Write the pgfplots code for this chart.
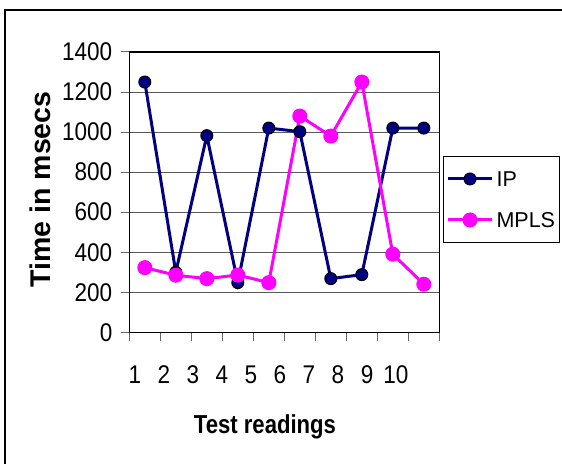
\documentclass[border=0pt]{standalone}
\usepackage{fontspec}
\setmainfont{Liberation Sans}
\newfontfamily\tickfont{Liberation Sans}[FakeStretch=0.88]
\newfontfamily\xlabfont{Liberation Sans}[FakeStretch=0.85]
\usepackage{pgfplots}
\pgfplotsset{compat=1.18}
\definecolor{ipblue}{HTML}{000080}
\definecolor{mplsmag}{HTML}{FF00FF}
\begin{document}
\begin{tikzpicture}[x=1bp,y=1bp]
\useasboundingbox (0,0) rectangle (562,464);
\draw[line width=2bp] (4.7,-5) -- (4.7,454.2) -- (570,454.2);
\begin{axis}[
    at={(129.3bp,131.7bp)}, anchor=south west,
    scale only axis, width=310bp, height=280.3bp,
    xmin=0.5, xmax=10.5, ymin=0, ymax=1400,
    ytick={0,200,...,1400},
    ymajorgrids, major grid style={black!65, line width=0.8bp},
    xtick={0.5,1.5,...,10.5},
    xticklabels={},
    extra x ticks={0.684,1.619,2.555,3.490,4.426,5.361,6.297,7.232,8.168,9.103},
    extra x tick labels={1,2,3,4,5,6,7,8,9,10},
    extra x tick style={grid=none, major tick length=0pt, tick style={draw=none}},
    xtick pos=bottom, ytick pos=left,
    tick align=outside, major tick length=8.5bp,
    tick style={black!60, line width=1bp},
    axis line style={black, line width=1.2bp},
    /pgf/number format/.cd, 1000 sep={}, assume math mode=true, /pgfplots/.cd,
    every tick label/.append style={font=\tickfont\fontsize{25.6bp}{30bp}\selectfont},
    xticklabel style={anchor=base, yshift=-51bp},
    yticklabel style={anchor=east, xshift=-5bp},
    xlabel={Test readings},
    xlabel style={font=\xlabfont\bfseries\fontsize{26bp}{30bp}\selectfont,
        at={(axis description cs:0.4377,-0.3593)}, anchor=base},
    ylabel={Time in msecs},
    ylabel style={font=\bfseries\fontsize{28.5bp}{30bp}\selectfont,
        at={(axis description cs:-0.288,0.5095)}, anchor=center, rotate=0},
    legend style={at={(axis description cs:1.012,0.629)}, anchor=north west,
        draw=black, line width=1bp, inner xsep=3bp, inner ysep=2bp,
        font=\fontsize{21.5bp}{24bp}\selectfont,
        /tikz/column sep=2bp,
        nodes={inner sep=1bp, text height=15bp, text depth=0bp, minimum height=41bp}},
    legend cell align=left,
    legend image code/.code={
        \draw[mark repeat=2,mark phase=2,#1] plot coordinates {(0bp,0bp) (22bp,0bp) (44bp,0bp)};
    },
]
\addplot[ipblue, line width=3bp, mark=*, mark size=6bp,
    mark options={fill=ipblue, draw=black, line width=1bp}] coordinates {
    (1,1250) (2,300) (3,982) (4,248) (5,1020)
    (6,1002) (7,268) (8,288) (9,1020) (10,1020)
};
\addlegendentry{IP}
\addplot[mplsmag, line width=3bp, mark=*, mark size=6bp,
    mark options={fill=mplsmag, draw=mplsmag}] coordinates {
    (1,323) (2,285) (3,268) (4,286) (5,248)
    (6,1080) (7,980) (8,1250) (9,390) (10,240)
};
\addlegendentry{MPLS}
\end{axis}
\end{tikzpicture}
\end{document}
